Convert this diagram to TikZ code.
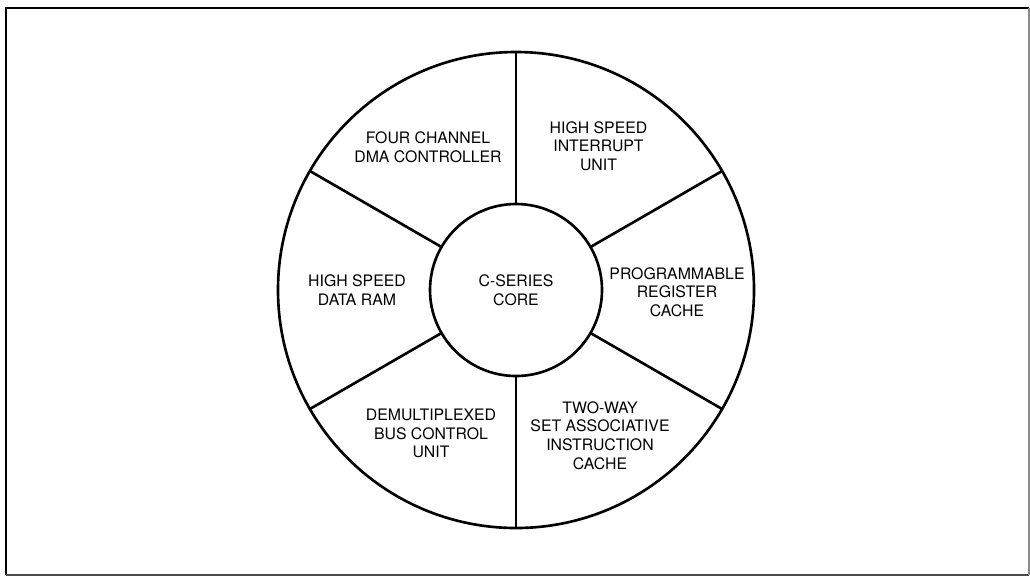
\documentclass[tikz,border=0pt]{standalone}
\usepackage{fontspec}
\setmainfont{TeX Gyre Heros}
\usetikzlibrary{calc, positioning}

\tikzset{
  ringline/.style={line width=1.5pt},
  unitlabel/.style={align=center, inner sep=0pt, font=\fontsize{9}{10.6}\selectfont},
}

\begin{document}
\begin{tikzpicture}[x=0.02cm,y=-0.02cm]
\def\ringradius{238}
\def\coreradius{86}
\useasboundingbox (0,0) rectangle (1030,576);

% frame
\draw[line width=1.3pt] (6,575) -- (6,8) -- (1029,8);
\draw[line width=1pt, black!70] (6,575) -- (1029,575);
\draw[line width=0.7pt, black!45] (1029,8) -- (1029,575);

\node[ringline, draw, circle, outer sep=0pt, minimum size={2*\ringradius*0.02cm}] (ring) at (516,290) {};
\node[ringline, draw, circle, outer sep=0pt, minimum size={2*\coreradius*0.02cm}, unitlabel] (core) at (ring.center) {C-SERIES\\CORE};

\foreach \ang in {90,30,-30,-90,-150,150}
  \draw[ringline] (core.\ang) -- (ring.\ang);

\node[unitlabel] (dma) at (428,147.5) {FOUR CHANNEL\\DMA CONTROLLER};
\node[unitlabel] (interrupt) at (598.5,146) {HIGH SPEED\\INTERRUPT\\UNIT};
\node[unitlabel] (regcache) at (677,292) {PROGRAMMABLE\\REGISTER\\CACHE};
\node[unitlabel] (icache) at (600,435.5) {TWO-WAY\\SET ASSOCIATIVE\\INSTRUCTION\\CACHE};
\node[unitlabel] (buscontrol) at (431,433.5) {DEMULTIPLEXED\\BUS CONTROL\\UNIT};
\node[unitlabel] (dataram) at (357,290) {HIGH SPEED\\DATA RAM};
\end{tikzpicture}
\end{document}
